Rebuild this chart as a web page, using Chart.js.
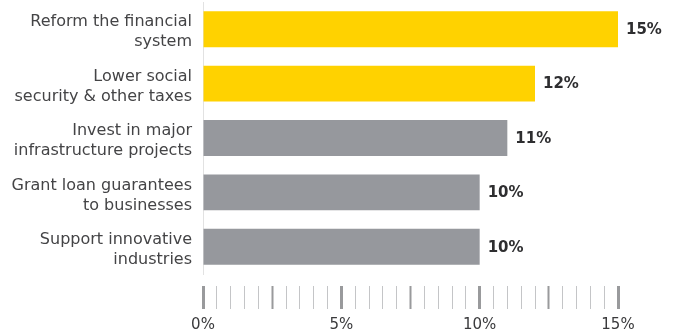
<!DOCTYPE html>
<html lang="en">
<head>
    <meta charset="UTF-8">
    <title>Priorities Bar Chart</title>
    <script src="https://cdn.jsdelivr.net/npm/chart.js"></script>
    <style>
        html, body {
            margin: 0;
            padding: 0;
            background: #fff;
        }
        .chart-container {
            position: relative;
            width: 678px;
            height: 334px;
        }
    </style>
</head>
<body>
    <div class="chart-container">
        <canvas id="prioritiesChart"></canvas>
    </div>

    <script>
        const categories = [
            ['Reform the financial', 'system'],
            ['Lower social', 'security & other taxes'],
            ['Invest in major', 'infrastructure projects'],
            ['Grant loan guarantees', 'to businesses'],
            ['Support innovative', 'industries']
        ];
        const values = [15, 12, 11, 10, 10];
        const xTickLabels = [0, 5, 10, 15];

        const yellow = '#FFD200';
        const grey = '#96989D';
        const fontFamily = '"DejaVu Sans", sans-serif';

        // value labels at the end of each bar
        const valueLabels = {
            id: 'valueLabels',
            afterDatasetsDraw(chart) {
                const ctx = chart.ctx;
                const meta = chart.getDatasetMeta(0);
                ctx.save();
                ctx.font = 'bold 15px ' + fontFamily;
                ctx.fillStyle = '#2e2e30';
                ctx.textAlign = 'left';
                ctx.textBaseline = 'middle';
                meta.data.forEach((bar, i) => {
                    ctx.fillText(values[i] + '%', bar.x + 8, bar.y + 1);
                });
                ctx.restore();
            }
        };

        function tickSize(v) {
            if (v % 5 === 0) return 3;
            if (v % 2.5 === 0) return 2;
            return 1;
        }

        const ctx = document.getElementById('prioritiesChart').getContext('2d');
        const chart = new Chart(ctx, {
            type: 'bar',
            data: {
                labels: categories,
                datasets: [{
                    data: values,
                    backgroundColor: (c) => c.dataIndex < 2 ? yellow : grey,
                    barPercentage: 0.66,
                    categoryPercentage: 1
                }]
            },
            options: {
                indexAxis: 'y',
                responsive: true,
                maintainAspectRatio: false,
                animation: false,
                layout: {
                    padding: { top: 2, right: 60, bottom: 0, left: 0 }
                },
                plugins: {
                    legend: { display: false },
                    tooltip: { enabled: false }
                },
                scales: {
                    x: {
                        min: 0,
                        max: 15,
                        border: { display: false },
                        grid: {
                            drawOnChartArea: false,
                            drawTicks: true,
                            tickLength: 35,
                            tickBorderDash: [0, 12, 23, 0],
                            tickWidth: (c) => tickSize(c.tick.value),
                            tickColor: (c) => tickSize(c.tick.value) > 1 ? '#999a9c' : '#c4c5c7'
                        },
                        ticks: {
                            stepSize: 0.5,
                            autoSkip: false,
                            maxRotation: 0,
                            padding: 7,
                            color: '#3a3a3c',
                            font: { family: fontFamily, size: 15 },
                            callback: (v) => xTickLabels.includes(v) ? v + '%' : ''
                        },
                        afterFit: (scale) => { scale.height = 60; }
                    },
                    y: {
                        grid: { display: false, drawTicks: false },
                        border: { display: true, color: '#e2e2e2', width: 1 },
                        ticks: {
                            padding: 11,
                            labelOffset: 3,
                            color: '#444446',
                            font: { family: fontFamily, size: 16, lineHeight: 1.25 }
                        },
                        afterFit: (scale) => {
                            scale.width = 203;
                            scale.paddingTop = 0;
                            scale.paddingBottom = 0;
                        }
                    }
                }
            },
            plugins: [valueLabels]
        });
    </script>
</body>
</html>
